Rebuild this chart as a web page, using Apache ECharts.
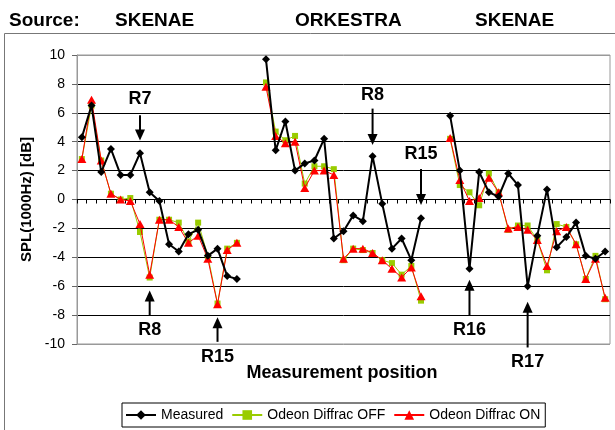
<!DOCTYPE html>
<html>
<head>
<meta charset="utf-8">
<script src="https://cdn.jsdelivr.net/npm/echarts@6/dist/echarts.min.js"></script>
<style>
  html, body { margin: 0; padding: 0; background: #fff; }
  #chart { width: 615px; height: 430px; }
</style>
</head>
<body>
<div id="chart"></div>
<script>
// Measurement positions: SKENAE (1-17), gap, ORKESTRA (20-36), gap, SKENAE (39-55)
const positions = ['1','2','3','4','5','6','7','8','9','10','11','12','13','14','15','16','17','18','19','20',
  '21','22','23','24','25','26','27','28','29','30','31','32','33','34','35','36','37','38','39','40',
  '41','42','43','44','45','46','47','48','49','50','51','52','53','54','55'];

// SPL at 1000 Hz [dB]; null marks the gaps between source groups
const measured = [
  4.3, 6.5, 1.9, 3.5, 1.7, 1.7, 3.2, 0.5, -0.1, -3.1, -3.6, -2.4, -2.1, -3.9, -3.4, -5.3, -5.5,
  null, null,
  9.7, 3.4, 5.4, 2.0, 2.5, 2.7, 4.2, -2.7, -2.2, -1.1, -1.5, 3.0, -0.3, -3.4, -2.7, -4.2, -1.3,
  null, null,
  5.8, 2.0, -4.8, 1.9, 0.5, 0.2, 1.8, 1.0, -6.0, -2.5, 0.7, -3.3, -2.6, -1.6, -3.9, -4.1, -3.6
];
const diffracOff = [
  2.8, 6.5, 2.7, 0.4, 0.0, 0.1, -2.25, -5.4, -1.4, -1.4, -1.6, -2.9, -1.6, -3.9, -7.2, -3.4, -3.0,
  null, null,
  8.1, 4.7, 4.1, 4.4, 1.1, 2.3, 2.3, 2.1, -4.2, -3.4, -3.5, -3.7, -4.2, -4.4, -5.2, -4.6, -7.0,
  null, null,
  4.2, 1.0, 0.5, -0.4, 1.8, 0.5, -2.1, -1.8, -1.8, -2.8, -4.9, -1.7, -1.9, -3.1, -5.5, -3.9, -6.9
];
const diffracOn = [
  2.8, 6.9, 2.7, 0.4, 0.0, -0.1, -1.7, -5.2, -1.4, -1.4, -1.9, -3.0, -2.5, -4.1, -7.25, -3.5, -3.0,
  null, null,
  7.8, 4.4, 3.9, 4.0, 0.8, 2.0, 2.0, 1.7, -4.1, -3.4, -3.4, -3.7, -4.2, -4.8, -5.4, -4.7, -6.7,
  null, null,
  4.25, 1.35, -0.1, 0.1, 1.5, 0.5, -2.0, -1.9, -2.1, -2.8, -4.6, -2.2, -1.9, -3.1, -5.5, -4.1, -6.8
];

// Receiver call-outs: category index, arrow tail / tip and label level in dB
const callouts = [
  { text: 'R7',  idx: 6,  tail: 5.83,  tip: 4.08,  label: 6.94 },
  { text: 'R8',  idx: 7,  tail: -8.0,  tip: -6.3,  label: -9.04 },
  { text: 'R15', idx: 14, tail: -9.85, tip: -8.15, label: -10.9 },
  { text: 'R8',  idx: 30, tail: 6.29,  tip: 3.78,  label: 7.22 },
  { text: 'R15', idx: 35, tail: 2.11,  tip: -0.38, label: 3.16 },
  { text: 'R16', idx: 40, tail: -8.0,  tip: -5.55, label: -9.04 },
  { text: 'R17', idx: 46, tail: -10.24, tip: -7.07, label: -11.25 }
];

const FONT = '"Liberation Sans", Arial, sans-serif';
const chart = echarts.init(document.getElementById('chart'), null, { renderer: 'canvas' });

const yLineColors = ['#999', '#000', '#000', '#000', '#000', '#000', '#000', '#000', '#000', '#000', '#999'];
const headStyle = { fontSize: 19, fontWeight: 'bold', color: '#000', fontFamily: FONT };

chart.setOption({
  animation: false,
  backgroundColor: '#fff',
  textStyle: { fontFamily: FONT },
  title: [
    { text: 'Source:',  left: 4,   top: 6, textStyle: headStyle },
    { text: 'SKENAE',   left: 110, top: 6, textStyle: headStyle },
    { text: 'ORKESTRA', left: 290, top: 6, textStyle: headStyle },
    { text: 'SKENAE',   left: 470, top: 6, textStyle: headStyle }
  ],
  grid: {
    left: 77, right: 5, top: 55, bottom: 86,
    show: true, borderColor: '#999', borderWidth: 1, backgroundColor: '#fff'
  },
  legend: {
    left: 122, top: 403,
    padding: [5, 5, 5, 3],
    borderColor: '#000', borderWidth: 1,
    itemWidth: 30, itemHeight: 12, itemGap: 8,
    textStyle: { fontSize: 14, color: '#000', fontFamily: FONT },
    data: ['Measured', 'Odeon Diffrac OFF', 'Odeon Diffrac ON']
  },
  xAxis: {
    type: 'category',
    data: positions,
    boundaryGap: true,
    axisLine: { onZero: true, lineStyle: { color: '#000', width: 1 } },
    axisTick: { show: true, interval: 0, length: 4, lineStyle: { color: '#000' } },
    axisLabel: { show: false },
    splitLine: { show: false }
  },
  yAxis: {
    type: 'value',
    min: -10, max: 10, interval: 2,
    name: 'SPL(1000Hz) [dB]',
    nameLocation: 'middle',
    nameRotate: 90,
    nameGap: 41,
    nameTextStyle: { fontSize: 15, fontWeight: 'bold', color: '#000', fontFamily: FONT },
    axisLine: { show: true, lineStyle: { color: '#999', width: 1 } },
    axisTick: { show: true, length: 5, lineStyle: { color: '#666' } },
    axisLabel: { fontSize: 14, color: '#000', margin: 12, fontFamily: FONT },
    splitLine: { show: true, lineStyle: { color: yLineColors, width: 1 } }
  },
  series: [
    {
      name: 'Odeon Diffrac OFF', type: 'line', data: diffracOff,
      showSymbol: true, showAllSymbol: true,
      symbol: 'rect', symbolSize: 6,
      lineStyle: { color: '#99CC00', width: 1 },
      itemStyle: { color: '#99CC00' },
      z: 2
    },
    {
      name: 'Odeon Diffrac ON', type: 'line', data: diffracOn,
      showSymbol: true, showAllSymbol: true,
      symbol: 'triangle', symbolSize: [9, 8],
      lineStyle: { color: '#FF0000', width: 1 },
      itemStyle: { color: '#FF0000' },
      z: 3
    },
    {
      name: 'Measured', type: 'line', data: measured,
      showSymbol: true, showAllSymbol: true,
      symbol: 'diamond', symbolSize: 8,
      lineStyle: { color: '#000', width: 2 },
      itemStyle: { color: '#000' },
      z: 4
    }
  ]
});

// Call-out arrows and labels, placed through the grid's own scales
function buildCallouts() {
  const els = [];
  callouts.forEach(function (c) {
    const tail = chart.convertToPixel({ gridIndex: 0 }, [c.idx, c.tail]);
    const tip = chart.convertToPixel({ gridIndex: 0 }, [c.idx, c.tip]);
    const lab = chart.convertToPixel({ gridIndex: 0 }, [c.idx, c.label]);
    const x = tip[0];
    const dir = tip[1] > tail[1] ? 1 : -1; // 1: pointing down
    const headLen = 11, headHalf = 5;
    const baseY = tip[1] - dir * headLen;
    els.push({
      type: 'line', silent: true, z: 100,
      shape: { x1: x, y1: tail[1], x2: x, y2: baseY + dir * 1 },
      style: { stroke: '#000', lineWidth: 2 }
    });
    els.push({
      type: 'polygon', silent: true, z: 100,
      shape: { points: [[x, tip[1]], [x - headHalf, baseY], [x + headHalf, baseY]] },
      style: { fill: '#000' }
    });
    els.push({
      type: 'text', silent: true, z: 100,
      x: lab[0], y: lab[1],
      style: {
        text: c.text, fill: '#000', font: 'bold 18px ' + FONT,
        align: 'center', verticalAlign: 'middle'
      }
    });
  });
  // outer chart frame
  els.push({
    type: 'rect', silent: true, z: 0,
    shape: { x: 4.5, y: 33.5, width: 700, height: 600 },
    style: { fill: 'none', stroke: '#777', lineWidth: 1 }
  });
  // horizontal axis title
  els.push({
    type: 'text', silent: true, z: 100,
    x: 342, y: 373,
    style: {
      text: 'Measurement position', fill: '#000', font: 'bold 18px ' + FONT,
      align: 'center', verticalAlign: 'middle'
    }
  });
  return els;
}

chart.setOption({ graphic: buildCallouts() });
</script>
</body>
</html>
